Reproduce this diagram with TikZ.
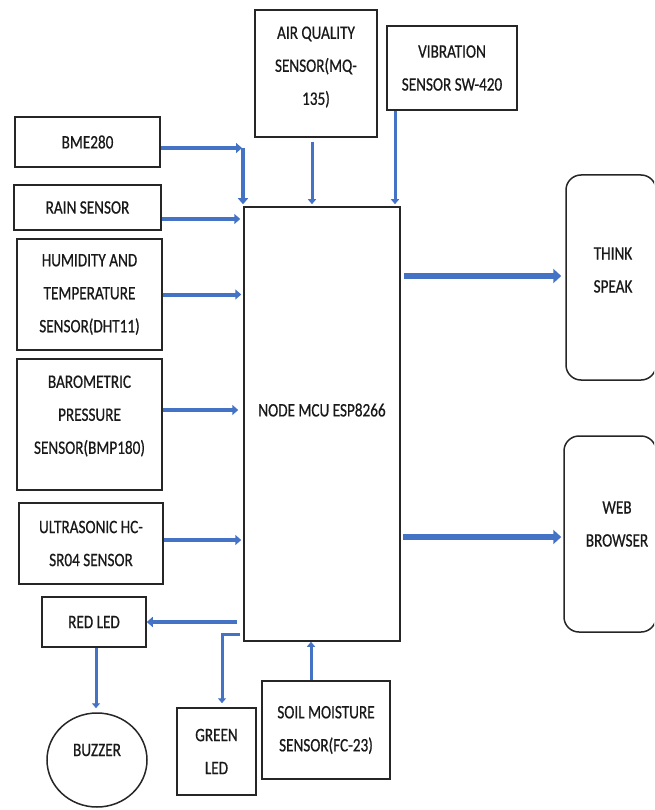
\documentclass[tikz,border=0pt]{standalone}
\usepackage{fontspec}
\setmainfont{Carlito}[FakeStretch=0.8,FakeBold=0.6]
\usetikzlibrary{arrows.meta,shapes.geometric}
\definecolor{arrowblue}{HTML}{4472C4}
\definecolor{boxline}{HTML}{262626}
\tikzset{
  txt/.style={font=\fontsize{19}{33}\selectfont, align=center, inner sep=0pt, text=black!90},
  box/.style={txt, draw=boxline, line width=1.5pt, rectangle},
  rbox/.style={box, rounded corners=15pt},
  circ/.style={txt, draw=boxline, line width=1.5pt, ellipse},
  arrT/.style={draw=arrowblue, line width=3pt, -{Triangle[length=5pt,width=8pt]}},
  arrM/.style={draw=arrowblue, line width=4pt, -{Triangle[length=6pt,width=10pt]}},
  arrW/.style={draw=arrowblue, line width=6.5pt, -{Triangle[length=8pt,width=14pt]}}
}
\begin{document}
\begin{tikzpicture}[x=1pt,y=-1pt]
\clip (0,0) rectangle (654,810);
\fill[white] (0,0) rectangle (654,810);

% boxes
\node[box, minimum width=145pt, minimum height=50pt] (bme) at (87.5,142) {BME280};
\node[box, minimum width=147pt, minimum height=45pt] (rain) at (87.5,207.5) {RAIN SENSOR};
\node[box, minimum width=145pt, minimum height=111pt] (hum) at (89.5,294.5) {HUMIDITY AND\\TEMPERATURE\\SENSOR(DHT11)};
\node[box, minimum width=145pt, minimum height=131pt] (baro) at (89.5,424.5) {};
\node[txt] (barot) at (89.5,416) {BAROMETRIC\\PRESSURE\\SENSOR(BMP180)};
\node[box, minimum width=144pt, minimum height=81pt] (ultra) at (91,543.5) {ULTRASONIC HC-\\SR04 SENSOR};
\node[box, minimum width=104pt, minimum height=50pt] (red) at (94,622) {RED LED};
\node[circ, minimum width=100pt, minimum height=94pt] (buzz) at (97,760) {};
\node[txt] (buzzt) at (97,750) {BUZZER};
\node[box, minimum width=79pt, minimum height=87pt] (green) at (216.5,751.5) {GREEN\\LED};
\node[box, minimum width=128pt, minimum height=98pt] (soil) at (326,730) {SOIL MOISTURE\\SENSOR(FC-23)};
\node[box, minimum width=156pt, minimum height=434pt] (mcu) at (322,424) {};
\node[txt] (mcut) at (322,410) {NODE MCU ESP8266};
\node[box, minimum width=122pt, minimum height=127pt] (air) at (316,73.5) {};
\node[txt] (airt) at (316,67) {AIR QUALITY\\SENSOR(MQ-\\135)};
\node[box, minimum width=130pt, minimum height=84pt] (vib) at (452,68) {VIBRATION\\SENSOR SW-420};
\node[rbox, minimum width=90pt, minimum height=205pt] (think) at (611,277.5) {};
\node[txt] (thinkt) at (613,270) {THINK\\SPEAK};
\node[rbox, minimum width=92pt, minimum height=196pt] (web) at (610,534) {};
\node[txt] (webt) at (617,524) {WEB\\BROWSER};

% helper coordinates
\coordinate (bmec) at (243,148);
\coordinate (airx) at (312,0);
\coordinate (vibx) at (395,0);
\coordinate (soilx) at (311,0);
\coordinate (greenc) at (222,634);
\coordinate (buzx) at (96,0);

% inputs from the left
\draw[arrM] ([yshift=-6pt]bme.east) -- ([xshift=-1pt]bmec);
\draw[arrM] (bmec) -- ([yshift=2pt]bmec |- mcu.north);
\draw[arrM] ([yshift=-11.5pt]rain.east) -- ([xshift=-3pt]mcu.west |- 0,219);
\draw[arrM] (hum.east) -- ([xshift=-2pt]mcu.west |- 0,294.5);
\draw[arrM] ([yshift=14.5pt]baro.east) -- ([xshift=-5pt]mcu.west |- 0,410);
\draw[arrM] ([yshift=3.5pt]ultra.east) -- ([xshift=-2pt]mcu.west |- 0,540);

% top inputs
\draw[arrT] ([yshift=-4pt]airx |- air.south) -- ([yshift=2pt]airx |- mcu.north);
\draw[arrT] (vibx |- vib.south) -- ([yshift=2pt]vibx |- mcu.north);

% bottom input
\draw[arrT] (soilx |- soil.north) -- (soilx |- mcu.south);

% outputs to LEDs
\draw[arrM] ([xshift=-6pt]mcu.west |- red.east) -- (red.east);
\draw[arrT] ([xshift=-3pt]mcu.west |- greenc) -- (greenc) -- ([yshift=4pt]greenc |- green.north);
\draw[arrT] (buzx |- red.south) -- ([yshift=4pt]buzx |- buzz.north);

% outputs to the right
\draw[arrW] ([xshift=3pt]mcu.east |- 0,276) -- ([xshift=-4pt]think.west |- 0,276);
\draw[arrW] ([xshift=2pt]mcu.east |- 0,537) -- ([xshift=-2pt]web.west |- 0,537);
\end{tikzpicture}
\end{document}
